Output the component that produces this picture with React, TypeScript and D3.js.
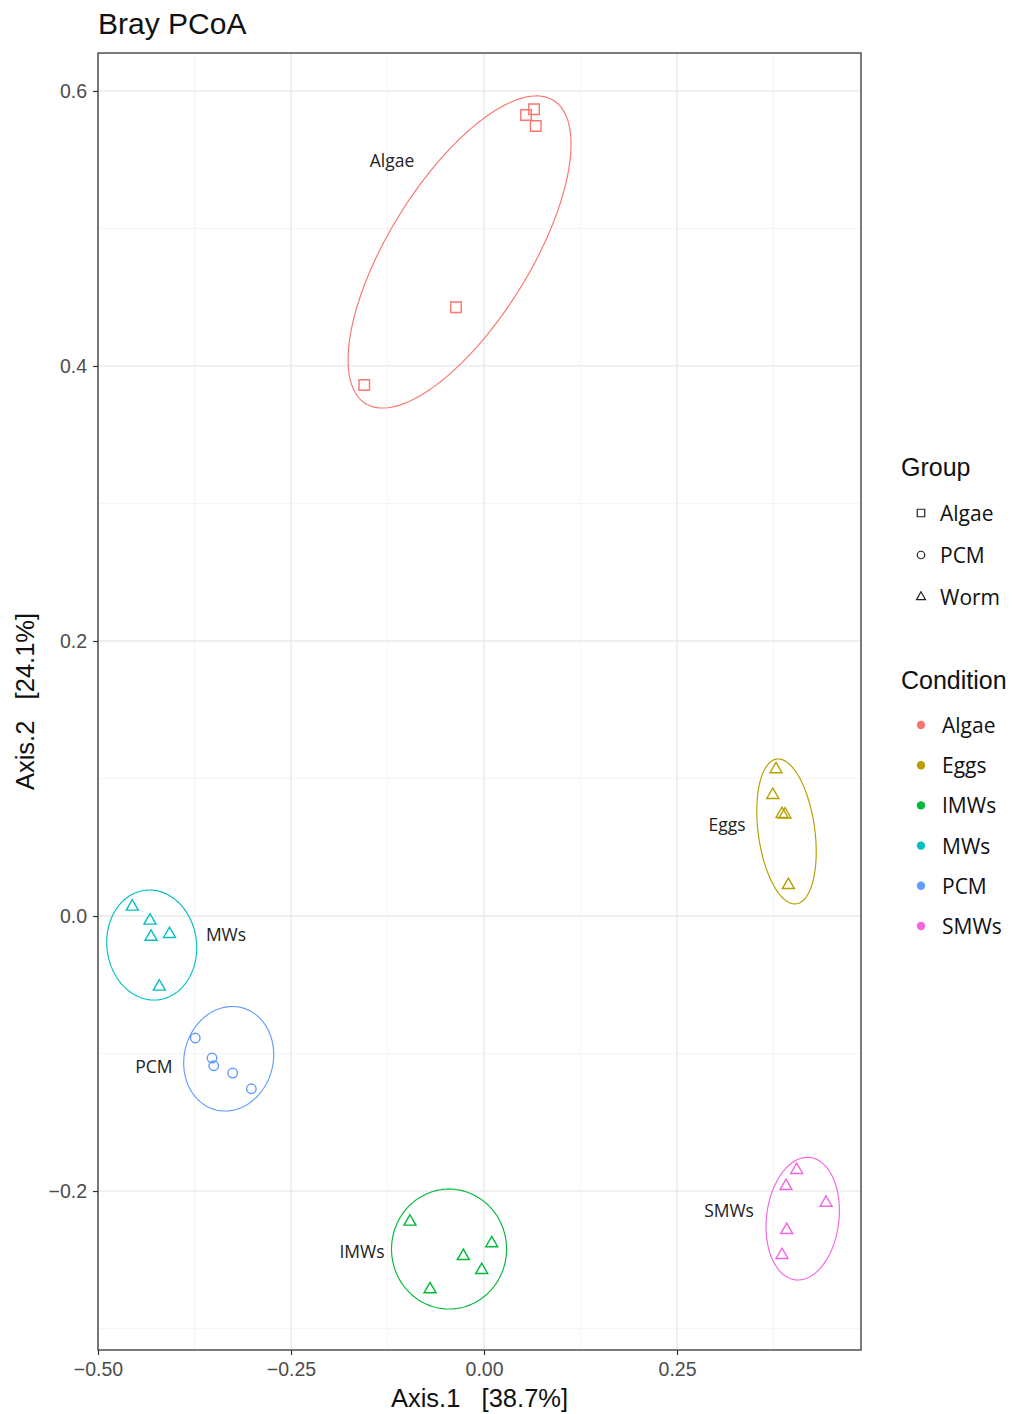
import { useEffect, useRef } from "react";
import * as d3 from "d3";

// conditions (colour) and groups (shape)
const conditions = ["Algae", "Eggs", "IMWs", "MWs", "PCM", "SMWs"];
const conditionColors = ["#F8766D", "#B79F00", "#00BA38", "#00BFC4", "#619CFF", "#F564E3"];
const groups = ["Algae", "PCM", "Worm"];

// samples
const sampleCondition = [
  "Algae", "Algae", "Algae", "Algae", "Algae",
  "Eggs", "Eggs", "Eggs", "Eggs", "Eggs",
  "IMWs", "IMWs", "IMWs", "IMWs", "IMWs",
  "MWs", "MWs", "MWs", "MWs", "MWs",
  "PCM", "PCM", "PCM", "PCM", "PCM",
  "SMWs", "SMWs", "SMWs", "SMWs", "SMWs",
];
const sampleGroup = [
  "Algae", "Algae", "Algae", "Algae", "Algae",
  "Worm", "Worm", "Worm", "Worm", "Worm",
  "Worm", "Worm", "Worm", "Worm", "Worm",
  "Worm", "Worm", "Worm", "Worm", "Worm",
  "PCM", "PCM", "PCM", "PCM", "PCM",
  "Worm", "Worm", "Worm", "Worm", "Worm",
];
const axis1 = [
  0.0648, 0.0544, 0.067, -0.0363, -0.1551,
  0.3782, 0.374, 0.386, 0.3899, 0.3942,
  -0.0959, -0.0268, 0.01, -0.003, -0.0699,
  -0.4556, -0.4326, -0.4313, -0.4074, -0.4206,
  -0.374, -0.3523, -0.3501, -0.3255, -0.3014,
  0.405, 0.3912, 0.443, 0.3921, 0.386,
];
const axis2 = [
  0.5867, 0.5825, 0.5745, 0.4427, 0.3862,
  0.1067, 0.088, 0.0742, 0.0738, 0.0225,
  -0.2223, -0.2473, -0.238, -0.2575, -0.2715,
  0.0068, -0.0034, -0.0151, -0.0131, -0.0514,
  -0.0887, -0.1033, -0.1089, -0.1142, -0.1256,
  -0.1847, -0.1964, -0.2085, -0.2284, -0.2465,
];

// ellipse per condition: centre, half extents and correlation (data units)
const ellipseCx = [-0.0317, 0.3918, -0.0453, -0.4304, -0.3307, 0.4128];
const ellipseCy = [0.4829, 0.0615, -0.2422, -0.0211, -0.1038, -0.2201];
const ellipseSx = [0.1444, 0.0385, 0.0745, 0.0583, 0.0583, 0.0475];
const ellipseSy = [0.1135, 0.0527, 0.0436, 0.04, 0.038, 0.0446];
const ellipseRho = [0.69, -0.28, 0.0, -0.05, 0.08, 0.13];

// cluster labels
const labelX = [-0.1192, 0.3148, -0.158, -0.3342, -0.4275, 0.3174];
const labelY = [0.5498, 0.0669, -0.2436, -0.0131, -0.1091, -0.2138];

const xDomain = [-0.5, 0.4883];
const yDomain = [-0.3156, 0.6276];
const xTicks = [-0.5, -0.25, 0, 0.25];
const xMinor = [-0.375, -0.125, 0.125, 0.375];
const yTicks = [-0.2, 0, 0.2, 0.4, 0.6];
const yMinor = [-0.3, -0.1, 0.1, 0.3, 0.5];

const shapePath = (shape: string, x: number, y: number, s: number) => {
  if (shape === "Algae") {
    const h = s / 2;
    return `M${x - h},${y - h}h${s}v${s}h${-s}Z`;
  }
  if (shape === "PCM") {
    const r = s / 2;
    return `M${x - r},${y}a${r},${r} 0 1,0 ${2 * r},0a${r},${r} 0 1,0 ${-2 * r},0Z`;
  }
  const hh = (s * Math.sqrt(3)) / 2;
  return `M${x},${y - (2 * hh) / 3}L${x + s / 2},${y + hh / 3}L${x - s / 2},${y + hh / 3}Z`;
};

export default function App() {
  const ref = useRef<SVGSVGElement>(null);

  useEffect(() => {
    const svg = d3.select(ref.current);
    svg.selectAll("*").remove();

    const left = 98,
      right = 861,
      top = 53,
      bottom = 1350;
    const x = d3.scaleLinear().domain(xDomain).range([left, right]);
    const y = d3.scaleLinear().domain(yDomain).range([bottom, top]);
    const color = d3.scaleOrdinal<string>().domain(conditions).range(conditionColors);

    const sans = "'Liberation Sans', Arial, sans-serif";
    const labelFont = "'Open Sans', 'Noto Sans', sans-serif";

    svg.append("rect").attr("width", 1014).attr("height", 1414).attr("fill", "white");

    // grid
    const grid = svg.append("g");
    xMinor.forEach((v) =>
      grid.append("line").attr("x1", x(v)).attr("x2", x(v)).attr("y1", top).attr("y2", bottom)
        .attr("stroke", "#F3F3F3").attr("stroke-width", 0.8)
    );
    yMinor.forEach((v) =>
      grid.append("line").attr("x1", left).attr("x2", right).attr("y1", y(v)).attr("y2", y(v))
        .attr("stroke", "#F3F3F3").attr("stroke-width", 0.8)
    );
    xTicks.forEach((v) =>
      grid.append("line").attr("x1", x(v)).attr("x2", x(v)).attr("y1", top).attr("y2", bottom)
        .attr("stroke", "#E8E8E8").attr("stroke-width", 1.3)
    );
    yTicks.forEach((v) =>
      grid.append("line").attr("x1", left).attr("x2", right).attr("y1", y(v)).attr("y2", y(v))
        .attr("stroke", "#E8E8E8").attr("stroke-width", 1.3)
    );

    // ellipses
    const angles = d3.range(0, 2 * Math.PI, Math.PI / 90);
    const line = d3.line<number[]>().x((d) => x(d[0])).y((d) => y(d[1])).curve(d3.curveLinearClosed);
    conditions.forEach((c, i) => {
      const rho = ellipseRho[i];
      const pts = angles.map((t) => [
        ellipseCx[i] + ellipseSx[i] * Math.cos(t),
        ellipseCy[i] + ellipseSy[i] * (rho * Math.cos(t) + Math.sqrt(1 - rho * rho) * Math.sin(t)),
      ]);
      svg.append("path").attr("d", line(pts)).attr("fill", "none")
        .attr("stroke", color(c)).attr("stroke-width", 1.15);
    });

    // points
    svg.append("g").selectAll("path")
      .data(axis1.map((v, i) => ({ x: v, y: axis2[i], c: sampleCondition[i], g: sampleGroup[i] })))
      .join("path")
      .attr("d", (d) => shapePath(d.g, x(d.x), y(d.y), d.g === "Worm" ? 12 : d.g === "PCM" ? 9.5 : 10.5))
      .attr("fill", "none")
      .attr("stroke", (d) => color(d.c))
      .attr("stroke-width", 1.4);

    // cluster labels
    conditions.forEach((c, i) => {
      svg.append("text").text(c).attr("x", x(labelX[i])).attr("y", y(labelY[i]))
        .attr("text-anchor", "middle").attr("dominant-baseline", "central")
        .attr("font-family", labelFont).attr("font-size", 17.5).attr("fill", "#222");
    });

    // panel border
    svg.append("rect").attr("x", left).attr("y", top).attr("width", right - left).attr("height", bottom - top)
      .attr("fill", "none").attr("stroke", "#444").attr("stroke-width", 1.4);

    // axes
    const xAxis = svg.append("g").attr("transform", `translate(0,${bottom})`)
      .call(d3.axisBottom(x).tickValues(xTicks).tickSize(5).tickPadding(7).tickFormat(d3.format(".2f")));
    const yAxis = svg.append("g").attr("transform", `translate(${left},0)`)
      .call(d3.axisLeft(y).tickValues(yTicks).tickSize(5).tickPadding(6).tickFormat(d3.format(".1f")));
    [xAxis, yAxis].forEach((a) => {
      a.select(".domain").remove();
      a.selectAll("line").attr("stroke", "#333").attr("stroke-width", 1.2);
      a.selectAll("text").attr("font-family", sans).attr("font-size", 19.5).attr("fill", "#4D4D4D");
    });

    // titles
    svg.append("text").text("Bray PCoA").attr("x", left).attr("y", 34)
      .attr("font-family", sans).attr("font-size", 30).attr("fill", "#111");
    svg.append("text").text("Axis.1   [38.7%]").attr("x", (left + right) / 2).attr("y", 1407)
      .attr("text-anchor", "middle").attr("font-family", sans).attr("font-size", 25.5)
      .style("white-space", "pre").attr("fill", "#111");
    svg.append("text").text("Axis.2   [24.1%]")
      .attr("transform", `translate(34,${(top + bottom) / 2}) rotate(-90)`)
      .attr("text-anchor", "middle").attr("font-family", sans).attr("font-size", 25.5)
      .style("white-space", "pre").attr("fill", "#111");

    // legends
    const lg = svg.append("g");
    lg.append("text").text("Group").attr("x", 901).attr("y", 476)
      .attr("font-family", sans).attr("font-size", 25).attr("fill", "#111");
    groups.forEach((g, i) => {
      const cy = 513 + i * 42;
      lg.append("path").attr("d", shapePath(g, 921, cy, g === "Worm" ? 9 : 7.5))
        .attr("fill", "none").attr("stroke", "#222").attr("stroke-width", 1.2);
      lg.append("text").text(g).attr("x", 940).attr("y", cy).attr("dominant-baseline", "central")
        .attr("font-family", labelFont).attr("font-size", 21).attr("fill", "#111");
    });
    lg.append("text").text("Condition").attr("x", 901).attr("y", 689)
      .attr("font-family", sans).attr("font-size", 25).attr("fill", "#111");
    conditions.forEach((c, i) => {
      const cy = 725 + i * 40.2;
      lg.append("circle").attr("cx", 921).attr("cy", cy).attr("r", 4.2).attr("fill", color(c));
      lg.append("text").text(c).attr("x", 942).attr("y", cy).attr("dominant-baseline", "central")
        .attr("font-family", labelFont).attr("font-size", 21).attr("fill", "#111");
    });
  }, []);

  return (
    <svg
      ref={ref}
      width={1014}
      height={1414}
      style={{ position: "absolute", left: 0, top: 0 }}
    ></svg>
  );
}
